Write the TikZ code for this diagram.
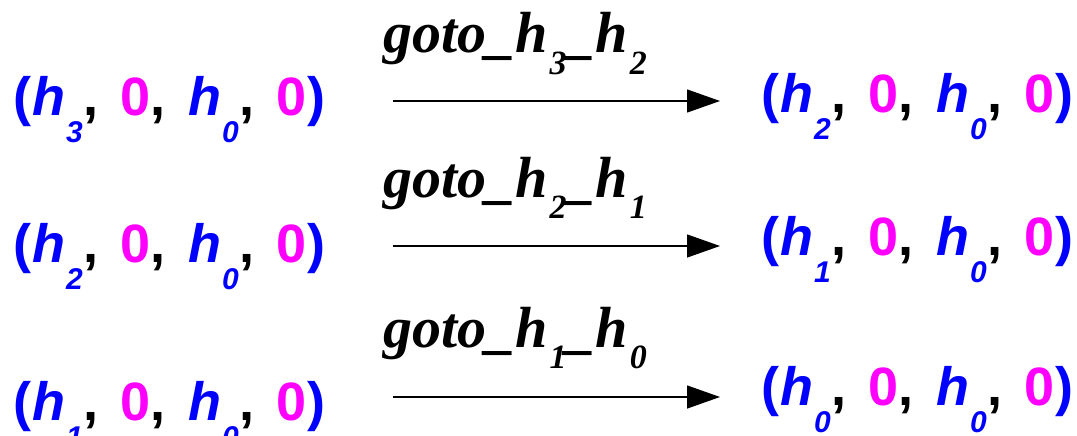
\documentclass[tikz,border=0pt]{standalone}
\usepackage{fontspec}
\setmainfont{Liberation Serif}
\setsansfont{Liberation Sans}
\usepackage{xcolor}
\usetikzlibrary{arrows.meta,positioning}

\definecolor{hblue}{RGB}{0,0,255}
\definecolor{zmag}{RGB}{255,0,255}

% tuple pieces
\newcommand{\hval}[1]{{\color{hblue}\itshape\kern1pt h\kern1pt\raisebox{-27pt}{\fontsize{30}{30}\selectfont #1}\kern1pt}}
\newcommand{\zval}{{\color{zmag}0}}
\newcommand{\tsep}{,\hspace{0.4em}}
\newcommand{\tup}[1]{{\color{hblue}(}\hval{#1}\tsep\zval\tsep\hval{0}\tsep\zval{\color{hblue}\kern1pt)}}
% label pieces
\newcommand{\lsub}[1]{\kern2pt\raisebox{-21pt}{\fontsize{34}{34}\selectfont #1}}
\newcommand{\gotolbl}[2]{goto\_h\lsub{#1}\_h\lsub{#2}}

\begin{document}
\begin{tikzpicture}[
    x=1pt, y=-1pt,
    tuple/.style={inner sep=0pt, anchor=base west,
      font=\sffamily\bfseries\fontsize{54}{54}\selectfont},
    lbl/.style={inner sep=0pt, anchor=base west,
      font=\rmfamily\bfseries\itshape\fontsize{58}{58}\selectfont},
    trans/.style={-{Triangle[length=33pt,width=23pt]}, line width=1.3pt, black},
  ]
  \useasboundingbox (0,0) rectangle (1077,436);

  % Row 1
  \node[tuple] (l1) at (13,115) {\tup{3}};
  \node[tuple] (r1) at (761,113) {\tup{2}};
  \node[lbl] (g1) at (383,53) {\gotolbl{3}{2}};
  \coordinate (s1) at (393,101);
  \coordinate (e1) at (720,101);
  \draw[trans] (s1) -- (e1);

  % Row 2
  \node[tuple] (l2) at (13,262) {\tup{2}};
  \node[tuple] (r2) at (761,255) {\tup{1}};
  \node[lbl] (g2) at (383,197) {\gotolbl{2}{1}};
  \coordinate (s2) at (393,246);
  \coordinate (e2) at (720,246);
  \draw[trans] (s2) -- (e2);

  % Row 3
  \node[tuple] (l3) at (13,420) {\tup{1}};
  \node[tuple] (r3) at (761,405) {\tup{0}};
  \node[lbl] (g3) at (383,347) {\gotolbl{1}{0}};
  \coordinate (s3) at (393,397);
  \coordinate (e3) at (720,397);
  \draw[trans] (s3) -- (e3);
\end{tikzpicture}
\end{document}
